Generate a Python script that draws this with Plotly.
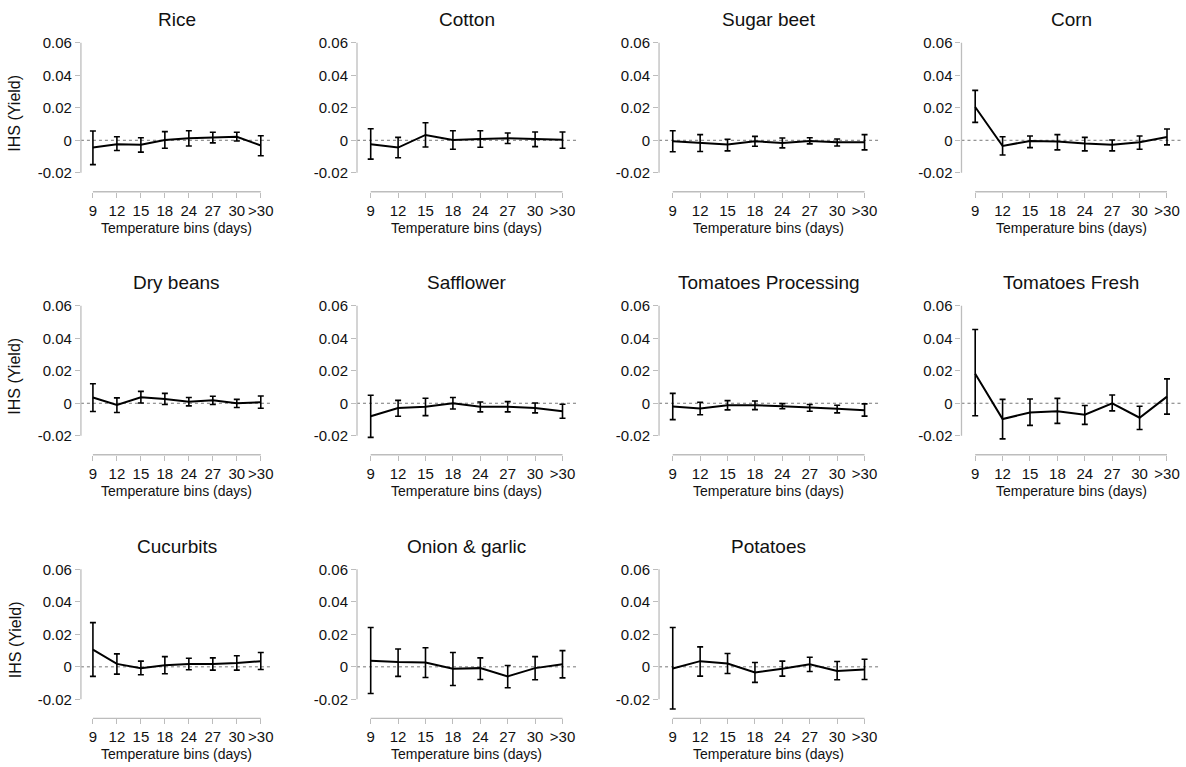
import plotly.graph_objects as go

bins = ["9", "12", "15", "18", "24", "27", "30", ">30"]
y_ticks = [-0.02, 0, 0.02, 0.04, 0.06]
y_tick_text = ["-0.02", "0", "0.02", "0.04", "0.06"]

crops = ["Rice", "Cotton", "Sugar beet", "Corn", "Dry beans", "Safflower",
         "Tomatoes Processing", "Tomatoes Fresh", "Cucurbits", "Onion & garlic", "Potatoes"]

rice_est = [-0.0045, -0.0024, -0.0028, 0.0002, 0.0012, 0.0016, 0.0022, -0.0032]
rice_lo = [-0.0150, -0.0063, -0.0073, -0.0049, -0.0035, -0.0016, -0.0004, -0.0095]
rice_hi = [0.0057, 0.0022, 0.0016, 0.0053, 0.0059, 0.0049, 0.0049, 0.0028]

cotton_est = [-0.0024, -0.0045, 0.0033, 0.0002, 0.0008, 0.0012, 0.0008, 0.0004]
cotton_lo = [-0.0116, -0.0108, -0.0041, -0.0055, -0.0043, -0.0020, -0.0039, -0.0049]
cotton_hi = [0.0071, 0.0018, 0.0108, 0.0059, 0.0059, 0.0045, 0.0051, 0.0051]

sugar_est = [-0.0006, -0.0014, -0.0026, -0.0006, -0.0016, -0.0004, -0.0012, -0.0012]
sugar_lo = [-0.0071, -0.0069, -0.0065, -0.0037, -0.0047, -0.0022, -0.0035, -0.0059]
sugar_hi = [0.0059, 0.0035, 0.0006, 0.0024, 0.0014, 0.0016, 0.0008, 0.0035]

corn_est = [0.0205, -0.0035, -0.0004, -0.0008, -0.0020, -0.0028, -0.0012, 0.0020]
corn_lo = [0.0110, -0.0091, -0.0045, -0.0059, -0.0065, -0.0065, -0.0055, -0.0028]
corn_hi = [0.0307, 0.0022, 0.0026, 0.0035, 0.0018, 0.0002, 0.0026, 0.0069]

beans_est = [0.0035, -0.0010, 0.0037, 0.0026, 0.0010, 0.0018, 0.0000, 0.0006]
beans_lo = [-0.0051, -0.0057, 0.0002, -0.0008, -0.0016, -0.0008, -0.0026, -0.0031]
beans_hi = [0.0120, 0.0033, 0.0073, 0.0061, 0.0035, 0.0043, 0.0024, 0.0045]

safflower_est = [-0.0080, -0.0029, -0.0022, 0.0000, -0.0022, -0.0022, -0.0029, -0.0049]
safflower_lo = [-0.0210, -0.0080, -0.0076, -0.0035, -0.0053, -0.0053, -0.0059, -0.0092]
safflower_hi = [0.0049, 0.0018, 0.0031, 0.0035, 0.0008, 0.0010, 0.0002, -0.0006]

tomproc_est = [-0.0020, -0.0032, -0.0012, -0.0012, -0.0018, -0.0028, -0.0034, -0.0043]
tomproc_lo = [-0.0101, -0.0071, -0.0041, -0.0039, -0.0034, -0.0049, -0.0059, -0.0079]
tomproc_hi = [0.0061, 0.0006, 0.0016, 0.0014, -0.0002, -0.0008, -0.0012, -0.0004]

tomfresh_est = [0.0182, -0.0097, -0.0057, -0.0049, -0.0071, 0.0000, -0.0089, 0.0041]
tomfresh_lo = [-0.0077, -0.0219, -0.0136, -0.0124, -0.0130, -0.0047, -0.0162, -0.0067]
tomfresh_hi = [0.0454, 0.0024, 0.0026, 0.0030, -0.0014, 0.0051, -0.0018, 0.0150]

cucurbits_est = [0.0106, 0.0018, -0.0008, 0.0010, 0.0018, 0.0018, 0.0023, 0.0035]
cucurbits_lo = [-0.0059, -0.0045, -0.0049, -0.0043, -0.0018, -0.0020, -0.0020, -0.0016]
cucurbits_hi = [0.0272, 0.0080, 0.0035, 0.0063, 0.0053, 0.0055, 0.0068, 0.0088]

onion_est = [0.0037, 0.0029, 0.0027, -0.0012, -0.0008, -0.0059, -0.0008, 0.0016]
onion_lo = [-0.0164, -0.0059, -0.0066, -0.0115, -0.0078, -0.0129, -0.0080, -0.0068]
onion_hi = [0.0242, 0.0110, 0.0117, 0.0088, 0.0055, 0.0008, 0.0063, 0.0100]

potato_est = [-0.0010, 0.0035, 0.0020, -0.0035, -0.0012, 0.0016, -0.0025, -0.0016]
potato_lo = [-0.0260, -0.0057, -0.0041, -0.0096, -0.0057, -0.0029, -0.0080, -0.0078]
potato_hi = [0.0242, 0.0123, 0.0082, 0.0027, 0.0035, 0.0059, 0.0033, 0.0047]

series = [
    (rice_est, rice_lo, rice_hi),
    (cotton_est, cotton_lo, cotton_hi),
    (sugar_est, sugar_lo, sugar_hi),
    (corn_est, corn_lo, corn_hi),
    (beans_est, beans_lo, beans_hi),
    (safflower_est, safflower_lo, safflower_hi),
    (tomproc_est, tomproc_lo, tomproc_hi),
    (tomfresh_est, tomfresh_lo, tomfresh_hi),
    (cucurbits_est, cucurbits_lo, cucurbits_hi),
    (onion_est, onion_lo, onion_hi),
    (potato_est, potato_lo, potato_hi),
]

W, H = 1186, 767
col_px = [(81, 273), (357.3, 576.7), (659.6, 879), (962.3, 1181.7)]
row_px = [(34.8, 188), (299.5, 452.7), (564.8, 718)]
YR = [-0.0317, 0.062]
GRAY = "#bdbdbd"
TXT = "#111111"
FONT = "Liberation Sans, Arial, sans-serif"

fig = go.Figure()
layout = dict(
    width=W, height=H, margin=dict(l=0, r=0, t=0, b=0),
    paper_bgcolor="white", plot_bgcolor="white", showlegend=False,
    font=dict(family=FONT, color=TXT),
)
shapes, annotations = [], []
xidx = list(range(len(bins)))

for i, (name, (est, lo, hi)) in enumerate(zip(crops, series)):
    n = i + 1
    r, c = divmod(i, 4)
    L, R = col_px[c]
    T, B = row_px[r]
    xs = "" if n == 1 else str(n)
    fig.add_trace(go.Scatter(
        x=xidx, y=est, mode="lines", xaxis="x" + xs, yaxis="y" + xs,
        line=dict(color="black", width=2),
        error_y=dict(type="data", symmetric=False,
                     array=[h - e for h, e in zip(hi, est)],
                     arrayminus=[e - l for e, l in zip(est, lo)],
                     color="black", thickness=1.6, width=3),
        hoverinfo="skip",
    ))
    layout["xaxis" + xs] = dict(
        domain=[L / W, R / W], range=[-0.5, 7.5], anchor="y" + xs,
        tickmode="array", tickvals=xidx, ticktext=bins,
        ticks="outside", ticklen=5, tickwidth=1, tickcolor=GRAY,
        showline=False, showgrid=False, zeroline=False,
        tickfont=dict(size=15, color=TXT, family=FONT), fixedrange=True,
    )
    layout["yaxis" + xs] = dict(
        domain=[1 - B / H, 1 - T / H], range=YR, anchor="x" + xs,
        tickmode="array", tickvals=y_ticks, ticktext=y_tick_text,
        ticks="outside", ticklen=5, tickwidth=1, tickcolor=GRAY,
        showline=False, showgrid=False, zeroline=False,
        tickfont=dict(size=15, color=TXT, family=FONT), fixedrange=True,
    )
    # y axis line from -0.02 to 0.06
    shapes.append(dict(type="line", xref="x" + xs + " domain", yref="y" + xs,
                       x0=0, x1=0, y0=y_ticks[0], y1=y_ticks[-1],
                       line=dict(color=GRAY, width=1.3)))
    # x axis line from first to last bin
    shapes.append(dict(type="line", xref="x" + xs, yref="y" + xs + " domain",
                       x0=xidx[0], x1=xidx[-1], y0=0, y1=0,
                       line=dict(color=GRAY, width=1.3)))
    # dotted zero line
    shapes.append(dict(type="line", xref="x" + xs + " domain", yref="y" + xs,
                       x0=0, x1=1, y0=0, y1=0, layer="below",
                       line=dict(color="#777777", width=1, dash="dot")))
    cx = (L + R) / 2 / W
    annotations.append(dict(text=name, x=cx, y=1 - (T - 20) / H, xref="paper", yref="paper",
                            xanchor="center", yanchor="middle", showarrow=False,
                            font=dict(size=19, color=TXT, family=FONT)))
    annotations.append(dict(text="Temperature bins (days)", x=cx, y=1 - (B + 36) / H,
                            xref="paper", yref="paper", xanchor="center", yanchor="middle",
                            showarrow=False, font=dict(size=14, color=TXT, family=FONT)))
    if c == 0:
        annotations.append(dict(text="IHS (Yield)", x=15 / W, y=1 - ((T + B) / 2 - 3) / H,
                                xref="paper", yref="paper", xanchor="center", yanchor="middle",
                                textangle=-90, showarrow=False,
                                font=dict(size=16, color=TXT, family=FONT)))

layout["shapes"] = shapes
layout["annotations"] = annotations
fig.update_layout(**layout)
fig.write_html("out.html")
